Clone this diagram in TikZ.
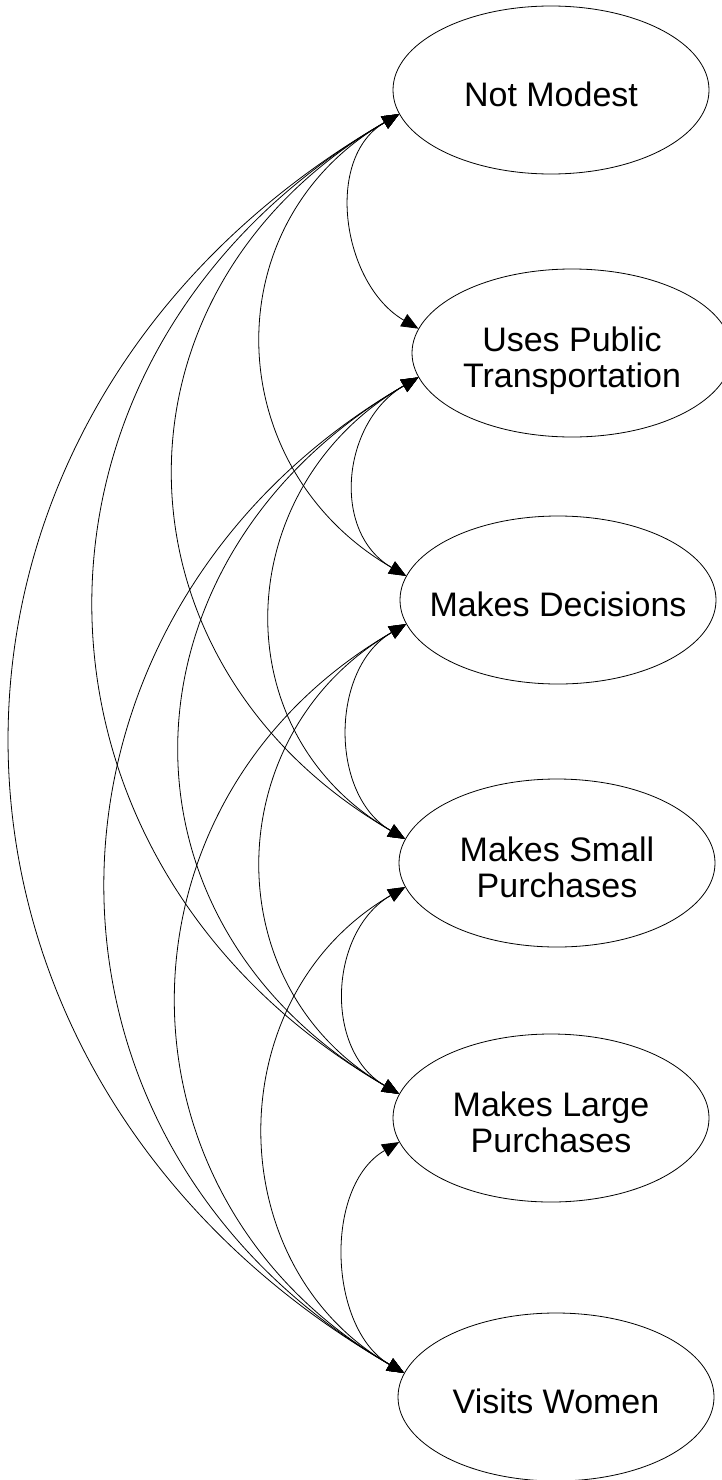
\documentclass[tikz,border=0pt]{standalone}
\usepackage{fontspec}
\setmainfont{Liberation Sans}
\usetikzlibrary{shapes.geometric, arrows.meta}
\newcommand{\fixlabel}[1]{\makebox[0pt]{\raisebox{-15.5pt}[0pt][0pt]{\begin{tabular}{@{}c@{}}#1\end{tabular}}}}
\begin{document}
\begin{tikzpicture}[x=1pt,y=-1pt,
  state/.style={ellipse, draw, line width=0.8pt, minimum width=316pt, minimum height=168pt, inner sep=0pt, font=\fontsize{34}{36}\selectfont},
  link/.style={line width=0.8pt, {Triangle[length=17pt,width=14pt]}-{Triangle[length=17pt,width=14pt]}}]
\useasboundingbox (0,0) rectangle (721,1480);
\node[state] (nm) at (551,90) {\fixlabel{Not Modest}};
\node[state, minimum width=320pt] (up) at (572,353) {\fixlabel{Uses Public\\Transportation}};
\node[state] (md) at (558,600) {\fixlabel{Makes Decisions}};
\node[state] (ms) at (557,863) {\fixlabel{Makes Small\\Purchases}};
\node[state] (ml) at (551,1118) {\fixlabel{Makes Large\\Purchases}};
\node[state] (vw) at (556,1397) {\fixlabel{Visits Women}};
\foreach \a/\b/\d in {nm/up/76, nm/md/187, nm/ms/303, nm/ml/405, nm/vw/520,
                      up/md/76, up/ms/187, up/ml/303, up/vw/405,
                      md/ms/76, md/ml/187, md/vw/303,
                      ms/ml/76, ms/vw/187,
                      ml/vw/76}
  \draw[link] (\a.189) .. controls +(-\d,0.58*\d) and +(-\d,-0.58*\d) .. (\b.171);
\end{tikzpicture}
\end{document}
